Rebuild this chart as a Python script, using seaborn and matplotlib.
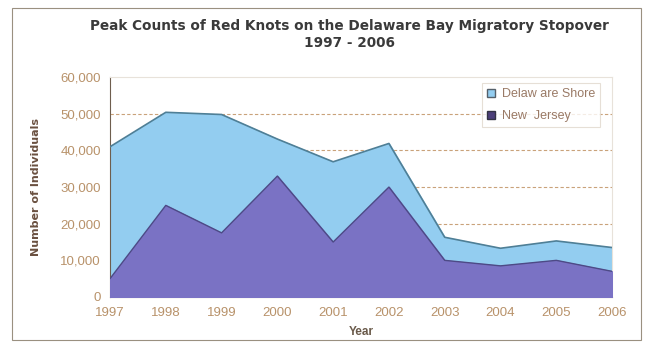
import numpy as np
import pandas as pd
import matplotlib.pyplot as plt
import seaborn as sns
from matplotlib.patches import Rectangle, Patch
from matplotlib.ticker import FuncFormatter

# Peak counts
years = [1997, 1998, 1999, 2000, 2001, 2002, 2003, 2004, 2005, 2006]
delaware_shore = [41000, 50400, 49800, 43100, 36900, 41900, 16300, 13300, 15300, 13500]
new_jersey = [5000, 25000, 17500, 33000, 15000, 30000, 10000, 8500, 10000, 7000]
y_ticks = [0, 10000, 20000, 30000, 40000, 50000, 60000]

df = pd.DataFrame({'Year': years, 'Delaware Shore': delaware_shore, 'New Jersey': new_jersey})

sns.set_style('white')
plt.rcParams['font.family'] = ['Liberation Sans', 'DejaVu Sans']

fig = plt.figure(figsize=(6.47, 3.49), dpi=100)
ax = fig.add_axes([0.170, 0.149, 0.776, 0.630])

blue = '#93cdf0'
purple = '#7a72c4'
ax.fill_between(df['Year'], df['Delaware Shore'], color=blue, zorder=2)
sns.lineplot(data=df, x='Year', y='Delaware Shore', color='#4f7f96', lw=1.2, ax=ax, zorder=3)
ax.fill_between(df['Year'], df['New Jersey'], color=purple, zorder=4)
sns.lineplot(data=df, x='Year', y='New Jersey', color='#4d4a86', lw=1.0, ax=ax, zorder=5)

# dashed gridlines
for t in y_ticks[1:-1]:
    ax.axhline(t, color='#c9a27a', ls=(0, (3, 2)), lw=0.8, zorder=1)

ax.set_xlim(1997, 2006)
ax.set_ylim(0, 60000)
ax.set_xticks(years)
ax.set_yticks(y_ticks)
ax.yaxis.set_major_formatter(FuncFormatter(lambda v, p: f'{int(v):,}'))

tick_col = '#b8926a'
ax.tick_params(axis='both', colors='#8a7a6a', labelcolor=tick_col, labelsize=9.5,
               length=3, direction='out')
ax.tick_params(axis='x', pad=4)
for s in ['top', 'right']:
    ax.spines[s].set_color('#e8e2da')
    ax.spines[s].set_linewidth(0.8)
ax.spines['left'].set_color('#6e5e4e')
ax.spines['bottom'].set_color('#8a7a6a')

ax.set_xlabel('Year', fontsize=8.5, fontweight='bold', color='#6a5a4a', labelpad=5)
ax.set_ylabel('Number of Individuals', fontsize=8, fontweight='bold', color='#6a5040',
              labelpad=14, family=['Liberation Sans Narrow', 'DejaVu Sans'])

fig.suptitle('Peak Counts of Red Knots on the Delaware Bay Migratory Stopover\n1997 - 2006',
             x=0.54, y=0.945, fontsize=9.8, fontweight='bold', color='#3a3a3a',
             linespacing=1.3, family='DejaVu Sans')

handles = [Patch(facecolor=blue, edgecolor='#55606a', label='Delaw are Shore'),
           Patch(facecolor='#4c3f7a', edgecolor='#333344', label='New  Jersey')]
leg = ax.legend(handles=handles, loc='upper right', bbox_to_anchor=(0.988, 1.0), fontsize=9,
                frameon=True, fancybox=False, handlelength=0.7, handleheight=0.7,
                labelspacing=0.8, borderpad=0.4, handletextpad=0.5)
leg.get_frame().set_edgecolor('#e0d8cc')
leg.get_frame().set_linewidth(0.8)
for txt in leg.get_texts():
    txt.set_color('#9a7a66')

# outer chart frame
fig.patches.append(Rectangle((0.018, 0.025), 0.972, 0.952, transform=fig.transFigure,
                             fill=False, edgecolor='#9a9080', lw=0.8))

fig.savefig('out.png', dpi=100)
